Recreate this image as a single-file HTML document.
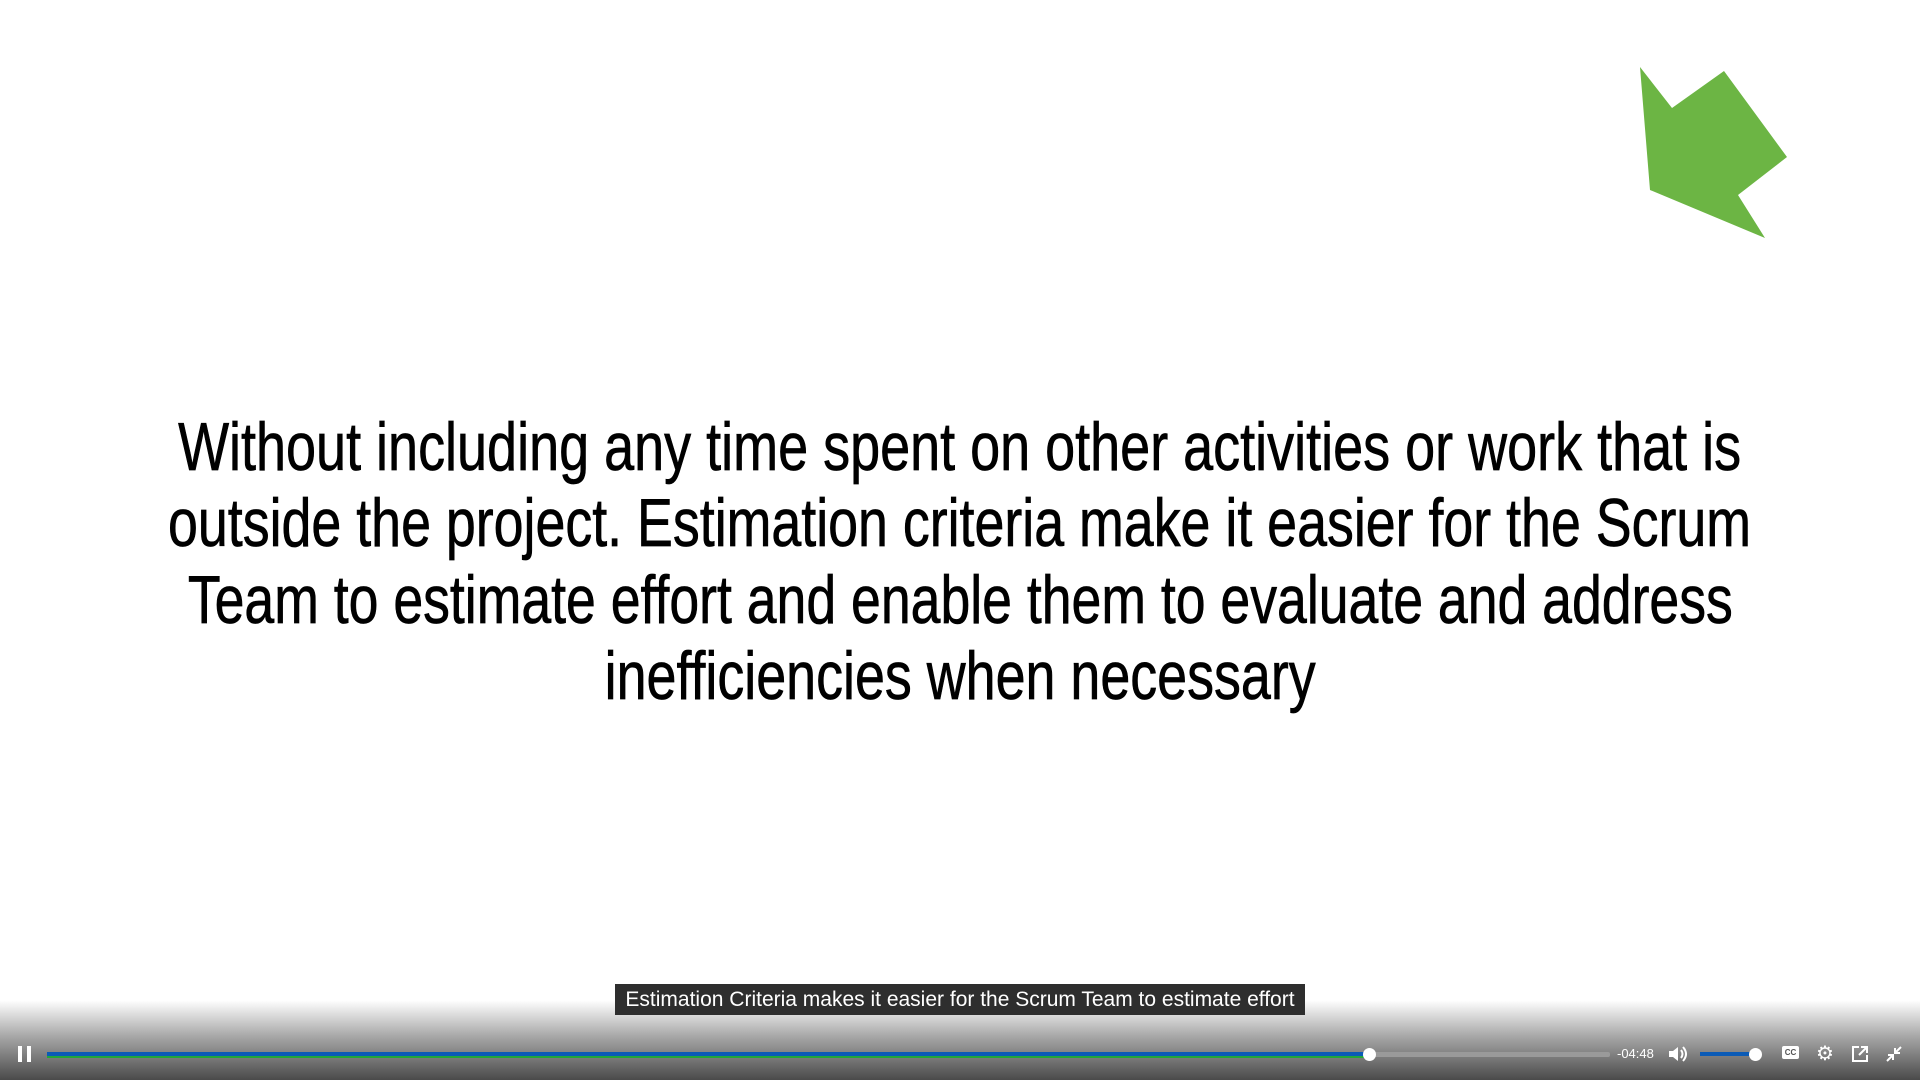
<!DOCTYPE html>
<html><head><meta charset="utf-8"><style>
html,body{margin:0;padding:0;width:1920px;height:1080px;overflow:hidden;background:#fff;font-family:"Liberation Sans",sans-serif}
.line{position:absolute;left:0;width:1920px;display:flex;justify-content:center;font-family:"Liberation Sans Narrow","Liberation Sans",sans-serif;font-size:68px;color:#000;white-space:nowrap;line-height:80px;-webkit-text-stroke:0.7px #000}
.line span{display:block;flex:none;transform-origin:center}
#grad{position:absolute;left:0;top:1000px;width:1920px;height:80px;background:linear-gradient(#fff,#a8a8a8 45%,#4a4a4a)}
#cap{position:absolute;left:615px;top:984px;width:690px;height:31px;background:#2e2e2e;color:#fff;font-size:21px;line-height:31px;text-align:center;white-space:nowrap}
.ic{position:absolute;color:#fff}
</style></head><body>
<svg style="position:absolute;left:0;top:0" width="1920" height="300">
<polygon points="1640,67 1672,108 1724,71 1787,157 1738,195 1765,238 1650,190" fill="#6cb544"/>
</svg>
<div class="line" style="top:407px"><span data-w="1563">Without including any time spent on other activities or work that is</span></div>
<div class="line" style="top:483px"><span data-w="1583">outside the project. Estimation criteria make it easier for the Scrum</span></div>
<div class="line" style="top:560px"><span data-w="1545">Team to estimate effort and enable them to evaluate and address</span></div>
<div class="line" style="top:636px"><span data-w="711">inefficiencies when necessary</span></div>
<div id="grad"></div>
<div id="cap">Estimation Criteria makes it easier for the Scrum Team to estimate effort</div>
<div style="position:absolute;left:18px;top:1046px;width:14px;height:16px">
<div style="position:absolute;left:0;top:0;width:4px;height:16px;background:#fff"></div><div style="position:absolute;left:9px;top:0;width:4px;height:16px;background:#fff"></div></div>
<div style="position:absolute;left:47px;top:1052px;width:1563px;height:5px;background:#9a9a9a;border-radius:2px"></div>
<div style="position:absolute;left:47px;top:1052px;width:1322px;height:4px;background:#0b5bb6"></div>
<div style="position:absolute;left:47px;top:1056px;width:1322px;height:2px;background:#22a63a"></div>
<div style="position:absolute;left:1363px;top:1048px;width:13px;height:13px;background:#fff;border-radius:50%"></div>
<div class="ic" style="left:1617px;top:1046px;font-size:13px">-04:48</div>
<svg class="ic" style="left:1668px;top:1045px" width="20" height="18"><polygon points="1,6 5,6 10,2 10,16 5,12 1,12" fill="#fff"/><path d="M13 5q3 4 0 8M15 2q6 7 0 14" stroke="#fff" stroke-width="2" fill="none"/></svg>
<div style="position:absolute;left:1700px;top:1052px;width:55px;height:4px;background:#0b5bb6"></div>
<div style="position:absolute;left:1749px;top:1048px;width:13px;height:13px;background:#fff;border-radius:50%"></div>
<div style="position:absolute;left:1782px;top:1046px;width:17px;height:13px;background:#fff;border-radius:2px;font-size:8px;line-height:13px;text-align:center;color:#555;font-weight:bold">CC</div>
<div class="ic" style="left:1816px;top:1041px;font-size:20px">⚙</div>
<svg class="ic" style="left:1851px;top:1045px" width="18" height="18"><path d="M8 2H2v14h14v-6M10 2h6v6M16 2l-8 8" stroke="#fff" stroke-width="2" fill="none"/></svg>
<svg class="ic" style="left:1885px;top:1045px" width="18" height="18"><path d="M2 16l6-6M3 10h5v5M16 2l-6 6M10 3v5h5" stroke="#fff" stroke-width="2" fill="none"/></svg>
<script>
document.querySelectorAll('.line span').forEach(function(s){
 var w=s.getBoundingClientRect().width, t=+s.getAttribute('data-w');
 if(w>0) s.style.transform='scaleX('+(t/w)+')';
});
</script>
</body></html>
